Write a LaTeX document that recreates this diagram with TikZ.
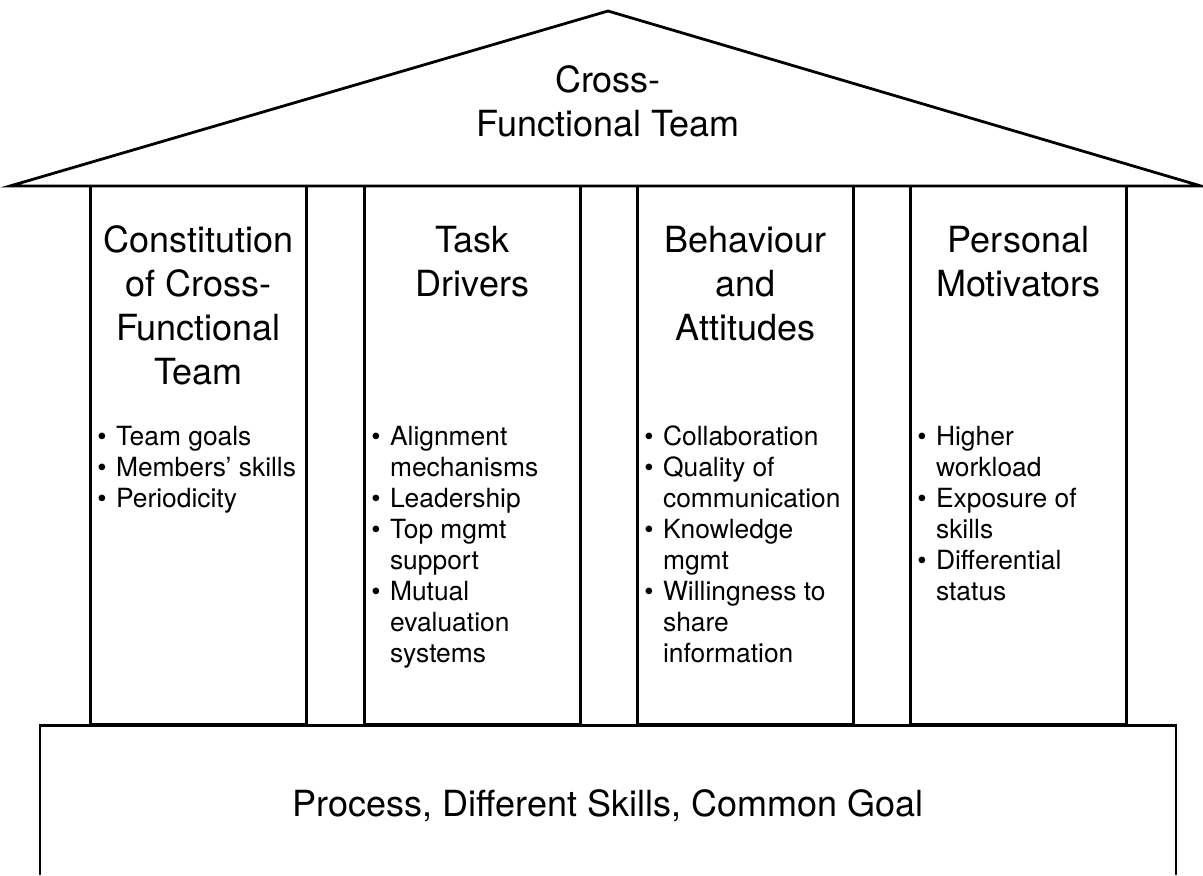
\documentclass[tikz,border=0pt]{standalone}
\usepackage{fontspec}
\setmainfont{TeX Gyre Heros}
\usepackage{tikz}

\begin{document}
\begin{tikzpicture}[x=0.5pt,y=-0.5pt,line width=1.4pt,
        pillar/.style={draw,minimum width=108pt,minimum height=269pt,inner sep=0pt},
        heading/.style={font=\fontsize{18}{22}\selectfont,anchor=base,inner sep=0pt},
        points/.style={font=\fontsize{13.2}{15.55}\selectfont,anchor=base west,inner sep=0pt}]
    \useasboundingbox (0,0) rectangle (1203,875);
    \coordinate (eaveL) at (10,186);
    \coordinate (apex) at (608,11);
    \coordinate (eaveR) at (1201,186);
    \draw[line join=miter] (eaveL) -- (apex) -- (eaveR) -- cycle;
    \node[heading] (roof) at (608,92)
        {\begin{tabular}[t]{@{}c@{}}Cross-\\Functional Team\end{tabular}};
    \foreach \x/\name in {90/p1,364/p2,637/p3,910/p4}
        \node[pillar] (\name) at (\x+108.5,455) {};
    \coordinate (footL) at (40,875);
    \coordinate (footR) at (1176,875);
    \draw (footL) |- (p1.south west -| footR) -- (footR);
    \node[heading] (base) at (608,816) {Process, Different Skills, Common Goal};
    \node[heading] (t1) at (p1.center |- 0,252)
        {\begin{tabular}[t]{@{}c@{}}Constitution\\of Cross-\\Functional\\Team\end{tabular}};
    \node[heading] (t2) at (p2.center |- 0,252)
        {\begin{tabular}[t]{@{}c@{}}Task\\Drivers\end{tabular}};
    \node[heading] (t3) at (p3.center |- 0,252)
        {\begin{tabular}[t]{@{}c@{}}Behaviour\\and\\Attitudes\end{tabular}};
    \node[heading] (t4) at (p4.center |- 0,252)
        {\begin{tabular}[t]{@{}c@{}}Personal\\Motivators\end{tabular}};
    \node[points] (b1) at (96,445)
        {\begin{tabular}[t]{@{}l@{\hspace{4.7pt}}l@{}}
            \textbullet & Team goals\\
            \textbullet & Members’ skills\\
            \textbullet & Periodicity
        \end{tabular}};
    \node[points] (b2) at (370,445)
        {\begin{tabular}[t]{@{}l@{\hspace{4.7pt}}l@{}}
            \textbullet & Alignment\\
                        & mechanisms\\
            \textbullet & Leadership\\
            \textbullet & Top mgmt\\
                        & support\\
            \textbullet & Mutual\\
                        & evaluation\\
                        & systems
        \end{tabular}};
    \node[points] (b3) at (643,445)
        {\begin{tabular}[t]{@{}l@{\hspace{4.7pt}}l@{}}
            \textbullet & Collaboration\\
            \textbullet & Quality of\\
                        & communication\\
            \textbullet & Knowledge\\
                        & mgmt\\
            \textbullet & Willingness to\\
                        & share\\
                        & information
        \end{tabular}};
    \node[points] (b4) at (916,445)
        {\begin{tabular}[t]{@{}l@{\hspace{4.7pt}}l@{}}
            \textbullet & Higher\\
                        & workload\\
            \textbullet & Exposure of\\
                        & skills\\
            \textbullet & Differential\\
                        & status
        \end{tabular}};
\end{tikzpicture}
\end{document}
